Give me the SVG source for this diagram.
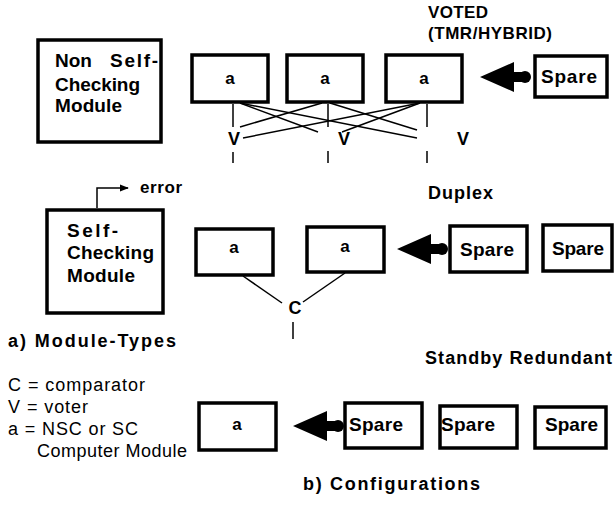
<svg xmlns="http://www.w3.org/2000/svg" width="615" height="508" viewBox="0 0 615 508">
  <style>
    .box { fill: #fff; stroke: #000; stroke-width: 3.5; }
    .ln { stroke: #000; stroke-width: 1.5; fill: none; }
    .b { font-family: "Liberation Sans", Arial, sans-serif; font-weight: bold; fill: #000; }
    .r { font-family: "Liberation Sans", Arial, sans-serif; fill: #000; }
    .lbl { font-size: 18px; }
    .mod { font-size: 19px; }
    .cell { font-size: 17px; text-anchor: middle; }
    .sp { font-size: 19px; }
  </style>
  <defs>
    <!-- thick "replace" arrow: tip at origin, pointing left, knob at the tail -->
    <g id="swap">
      <path d="M0,0 L34,-15 L34,-5 L44,-5 L44,5 L34,5 L34,15 Z" fill="#000"/>
      <circle cx="45" cy="0" r="6" fill="#000"/>
    </g>
    <marker id="tip" viewBox="0 0 10 10" refX="9" refY="5" markerWidth="6" markerHeight="6" orient="auto">
      <path d="M0,1 L10,5 L0,9 Z" fill="#000"/>
    </marker>
  </defs>

  <!-- module types -->
  <g id="nsc">
    <rect class="box" x="38" y="40" width="123" height="102"/>
    <text class="b mod" x="55" y="67">Non</text>
    <text class="b mod" x="110" y="67" textLength="48" lengthAdjust="spacing">Self-</text>
    <text class="b mod" x="55" y="91" textLength="85" lengthAdjust="spacing">Checking</text>
    <text class="b mod" x="55" y="112" textLength="67" lengthAdjust="spacing">Module</text>
  </g>
  <g id="sc">
    <rect class="box" x="47" y="210" width="116" height="103"/>
    <text class="b mod" x="67" y="237" textLength="51" lengthAdjust="spacing">Self-</text>
    <text class="b mod" x="67" y="259" textLength="87" lengthAdjust="spacing">Checking</text>
    <text class="b mod" x="67" y="282" textLength="68" lengthAdjust="spacing">Module</text>
    <polyline class="ln" points="97,208 97,188 128,188" marker-end="url(#tip)"/>
    <text class="b" font-size="17" x="140" y="193" textLength="42" lengthAdjust="spacing">error</text>
  </g>
  <text class="b lbl" x="8" y="347" textLength="168" lengthAdjust="spacing">a) Module-Types</text>

  <!-- legend -->
  <g id="legend">
    <text class="r" font-size="18" x="8" y="391" textLength="137" lengthAdjust="spacing">C = comparator</text>
    <text class="r" font-size="18" x="8" y="413" textLength="80" lengthAdjust="spacing">V = voter</text>
    <text class="r" font-size="18" x="8" y="435" textLength="130" lengthAdjust="spacing">a = NSC or SC</text>
    <text class="r" font-size="18" x="37" y="457" textLength="150" lengthAdjust="spacing">Computer Module</text>
  </g>

  <!-- voted (TMR / hybrid) -->
  <text class="b" font-size="17" x="428" y="18" textLength="60" lengthAdjust="spacing">VOTED</text>
  <text class="b" font-size="17" x="428" y="39" textLength="124" lengthAdjust="spacing">(TMR/HYBRID)</text>
  <g id="tmr-a1"><rect class="box" x="192" y="55" width="76" height="47"/><text class="b cell" x="230" y="84">a</text></g>
  <g id="tmr-a2"><rect class="box" x="287" y="55" width="76" height="47"/><text class="b cell" x="325" y="84">a</text></g>
  <g id="tmr-a3"><rect class="box" x="386" y="55" width="76" height="47"/><text class="b cell" x="424" y="84">a</text></g>
  <g id="tmr-spare"><rect class="box" x="535" y="56" width="72" height="41"/><text class="b sp" x="541" y="83" textLength="56" lengthAdjust="spacing">Spare</text></g>
  <g id="voters">
    <text class="b lbl" x="234" y="145" text-anchor="middle">V</text>
    <text class="b lbl" x="344" y="145" text-anchor="middle">V</text>
    <text class="b lbl" x="463" y="145" text-anchor="middle">V</text>
  </g>

  <!-- duplex -->
  <text class="b lbl" x="428" y="199" textLength="65" lengthAdjust="spacing">Duplex</text>
  <g id="dup-a1"><rect class="box" x="196" y="229" width="77" height="46"/><text class="b cell" x="234" y="253">a</text></g>
  <g id="dup-a2"><rect class="box" x="307" y="227" width="77" height="45"/><text class="b cell" x="345" y="252">a</text></g>
  <g id="dup-spare1"><rect class="box" x="450" y="226" width="77" height="46"/><text class="b sp" x="460" y="256" textLength="54" lengthAdjust="spacing">Spare</text></g>
  <g id="dup-spare2"><rect class="box" x="543" y="225" width="69" height="46"/><text class="b sp" x="552" y="255" textLength="52" lengthAdjust="spacing">Spare</text></g>
  <g id="comparator"><text class="b lbl" x="295" y="314" text-anchor="middle">C</text></g>

  <!-- standby redundant -->
  <text class="b lbl" x="425" y="364" textLength="187" lengthAdjust="spacing">Standby  Redundant</text>
  <g id="sb-a"><rect class="box" x="199" y="403" width="77" height="47"/><text class="b cell" x="237" y="430">a</text></g>
  <g id="sb-spare1"><rect class="box" x="345" y="403" width="77" height="45"/><text class="b sp" x="349" y="431" textLength="54" lengthAdjust="spacing">Spare</text></g>
  <g id="sb-spare2"><rect class="box" x="440" y="406" width="77" height="42"/><text class="b sp" x="441" y="431" textLength="54" lengthAdjust="spacing">Spare</text></g>
  <g id="sb-spare3"><rect class="box" x="535" y="407" width="71" height="41"/><text class="b sp" x="545" y="431" textLength="53" lengthAdjust="spacing">Spare</text></g>
  <text class="b lbl" x="303" y="490" textLength="177" lengthAdjust="spacing">b)  Configurations</text>

  <!-- connectors -->
  <g id="connectors">
    <!-- module outputs into voters -->
    <line class="ln" x1="233" y1="104" x2="233" y2="127"/>
    <line class="ln" x1="328" y1="104" x2="328" y2="127"/>
    <line class="ln" x1="427" y1="104" x2="427" y2="127"/>
    <line class="ln" x1="240" y1="103" x2="318" y2="132"/>
    <line class="ln" x1="240" y1="103" x2="417" y2="138"/>
    <line class="ln" x1="322" y1="103" x2="240" y2="127"/>
    <line class="ln" x1="330" y1="103" x2="417" y2="130"/>
    <line class="ln" x1="420" y1="103" x2="243" y2="138"/>
    <line class="ln" x1="420" y1="103" x2="342" y2="132"/>
    <!-- voter outputs -->
    <line class="ln" x1="233" y1="152" x2="233" y2="163"/>
    <line class="ln" x1="328" y1="151" x2="328" y2="163"/>
    <line class="ln" x1="427" y1="151" x2="427" y2="163"/>
    <!-- comparator -->
    <line class="ln" x1="243" y1="276" x2="282" y2="303"/>
    <line class="ln" x1="345" y1="273" x2="303" y2="302"/>
    <line class="ln" x1="293" y1="322" x2="293" y2="339"/>
    <!-- spare replacement arrows -->
    <use href="#swap" x="480" y="77"/>
    <use href="#swap" x="397" y="249"/>
    <use href="#swap" x="293" y="426"/>
  </g>
</svg>
